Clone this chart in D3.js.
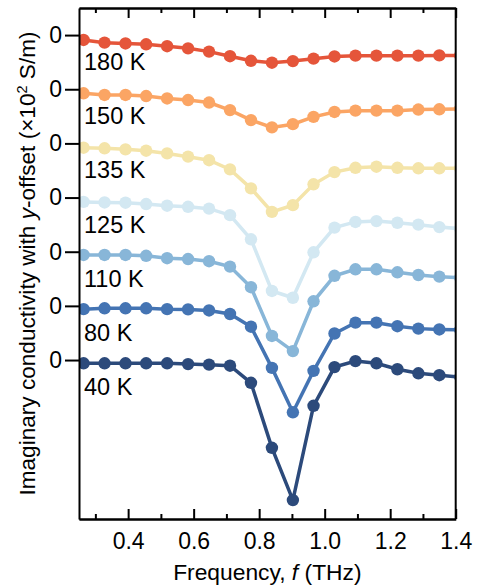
<!DOCTYPE html>
<html lang="en">
<head>
<meta charset="utf-8">
<title>Imaginary conductivity</title>
<style>
  body { margin: 0; background: #fff; }
  text { font-family: "Liberation Sans", Arial, sans-serif; fill: #000; }
  .axis path, .axis line { stroke: #000; stroke-width: 2px; }
</style>
</head>
<body>
<div id="chart"></div>
<script src="https://d3js.org/d3.v7.min.js"></script>
<script>
// frequency in THz (last point sits just outside the frame and is clipped)
var freqs = [0.264, 0.328, 0.392, 0.455, 0.519, 0.583, 0.647, 0.711, 0.775, 0.839,
             0.903, 0.966, 1.030, 1.094, 1.158, 1.222, 1.286, 1.350, 1.414];

var temps = ["180 K", "150 K", "135 K", "125 K", "110 K", "80 K", "40 K"];
var offsets = [12, 10, 8, 6, 4, 2, 0];   // y-offset, x10^2 S/m

// imaginary conductivity, x10^2 S/m (before offset)
var s180 = [-0.18, -0.28, -0.31, -0.34, -0.41, -0.49, -0.61, -0.78, -0.95, -1.02, -0.96, -0.87, -0.79, -0.76, -0.76, -0.76, -0.76, -0.75, -0.75];
var s150 = [-0.15, -0.21, -0.21, -0.25, -0.34, -0.40, -0.49, -0.77, -1.14, -1.41, -1.29, -1.02, -0.84, -0.79, -0.79, -0.79, -0.75, -0.74, -0.73];
var s135 = [-0.16, -0.18, -0.22, -0.27, -0.37, -0.49, -0.62, -0.96, -1.66, -2.53, -2.28, -1.51, -1.06, -0.90, -0.86, -0.90, -0.92, -0.92, -0.92];
var s125 = [-0.16, -0.18, -0.19, -0.24, -0.30, -0.34, -0.41, -0.65, -1.54, -3.45, -3.70, -2.02, -1.11, -0.90, -0.87, -0.93, -1.00, -1.09, -1.15];
var s110 = [-0.12, -0.12, -0.12, -0.15, -0.24, -0.27, -0.35, -0.55, -1.31, -3.11, -3.67, -1.83, -0.89, -0.65, -0.65, -0.76, -0.86, -0.92, -0.96];
var s80  = [-0.12, -0.09, -0.09, -0.09, -0.12, -0.13, -0.17, -0.30, -0.77, -2.29, -3.93, -2.40, -1.02, -0.62, -0.62, -0.75, -0.84, -0.87, -0.89];
var s40  = [-0.12, -0.12, -0.12, -0.12, -0.12, -0.15, -0.17, -0.21, -0.84, -3.24, -5.17, -1.69, -0.26, -0.04, -0.12, -0.34, -0.49, -0.56, -0.63];

var series = [s180, s150, s135, s125, s110, s80, s40];
var colors = ["#e5553a", "#fba564", "#f4e4a9", "#d3e8f2", "#88b6d8", "#4474b3", "#2c4a7b"];

var width = 481, height = 586;
var margin = {top: 8, right: 25.3, bottom: 67, left: 79};

var svg = d3.select("#chart").append("svg")
    .attr("width", width)
    .attr("height", height);

var x = d3.scaleLinear().domain([0.25, 1.4]).range([margin.left, width - margin.right]);
var y = d3.scaleLinear().domain([-5.87, 13]).range([height - margin.bottom, margin.top]);

svg.append("defs").append("clipPath").attr("id", "plotclip")
  .append("rect")
    .attr("x", margin.left)
    .attr("y", margin.top)
    .attr("width", width - margin.right - margin.left)
    .attr("height", height - margin.bottom - margin.top);

var line = d3.line()
    .x(function(d) { return x(d.f); })
    .y(function(d) { return y(d.v); });

var plot = svg.append("g").attr("clip-path", "url(#plotclip)");

series.forEach(function(s, i) {
  var pts = s.map(function(v, k) { return {f: freqs[k], v: v + offsets[i]}; });
  var g = plot.append("g");
  g.append("path")
      .datum(pts)
      .attr("fill", "none")
      .attr("stroke", colors[i])
      .attr("stroke-width", 3.5)
      .attr("d", line);
  g.selectAll("circle")
    .data(pts)
    .enter().append("circle")
      .attr("cx", function(d) { return x(d.f); })
      .attr("cy", function(d) { return y(d.v); })
      .attr("r", 6.2)
      .attr("fill", colors[i]);
});

// temperature labels
svg.append("g").selectAll("text")
  .data(temps)
  .enter().append("text")
    .attr("x", margin.left + 5)
    .attr("y", function(d, i) { return y(offsets[i]) + 35; })
    .attr("font-size", 23.5)
    .text(function(d) { return d; });

var bottomY = height - margin.bottom;
var majorTicks = [0.4, 0.6, 0.8, 1.0, 1.2, 1.4];
var minorTicks = [0.3, 0.5, 0.7, 0.9, 1.1, 1.3];

// bottom axis, inward ticks
var xAxis = svg.append("g")
    .attr("class", "axis")
    .attr("transform", "translate(0," + bottomY + ")")
    .call(d3.axisBottom(x).tickValues(majorTicks).tickSizeInner(-10).tickSizeOuter(0)
      .tickPadding(14).tickFormat(d3.format(".1f")));
xAxis.selectAll("text").attr("font-size", 23).attr("font-family", "Liberation Sans, Arial, sans-serif");
svg.append("g")
    .attr("class", "axis")
    .attr("transform", "translate(0," + bottomY + ")")
    .call(d3.axisBottom(x).tickValues(minorTicks).tickSizeInner(-5).tickSizeOuter(0).tickFormat(""));

// top axis
svg.append("g")
    .attr("class", "axis")
    .attr("transform", "translate(0," + margin.top + ")")
    .call(d3.axisTop(x).tickValues(majorTicks).tickSizeInner(-10).tickSizeOuter(0).tickFormat(""));
svg.append("g")
    .attr("class", "axis")
    .attr("transform", "translate(0," + margin.top + ")")
    .call(d3.axisTop(x).tickValues(minorTicks).tickSizeInner(-5).tickSizeOuter(0).tickFormat(""));

// right frame
svg.append("line")
    .attr("x1", width - margin.right).attr("x2", width - margin.right)
    .attr("y1", margin.top).attr("y2", bottomY)
    .attr("stroke", "#000").attr("stroke-width", 2);

// left axis: one zero per curve
var yAxis = svg.append("g")
    .attr("class", "axis")
    .attr("transform", "translate(" + margin.left + ",0)")
    .call(d3.axisLeft(y).tickValues(offsets).tickSizeInner(14).tickSizeOuter(0)
      .tickPadding(3).tickFormat(function() { return "0"; }));
yAxis.selectAll("text").attr("font-size", 23).attr("font-family", "Liberation Sans, Arial, sans-serif");

// axis titles
var xt = svg.append("text")
    .attr("x", (margin.left + width - margin.right) / 2)
    .attr("y", 580)
    .attr("text-anchor", "middle")
    .attr("font-size", 22.8);
xt.append("tspan").text("Frequency, ");
xt.append("tspan").attr("font-style", "italic").text("f");
xt.append("tspan").text(" (THz)");

var yt = svg.append("text")
    .attr("transform", "translate(35," + (margin.top + bottomY) / 2 + ") rotate(-90)")
    .attr("text-anchor", "middle")
    .attr("font-size", 22.6);
yt.append("tspan").text("Imaginary conductivity with ");
yt.append("tspan").attr("font-style", "italic").text("y");
yt.append("tspan").text("-offset (\u00d710");
yt.append("tspan").attr("font-size", 14.5).attr("dy", -8).text("2");
yt.append("tspan").attr("dy", 8).text(" S/m)");
</script>
</body>
</html>
